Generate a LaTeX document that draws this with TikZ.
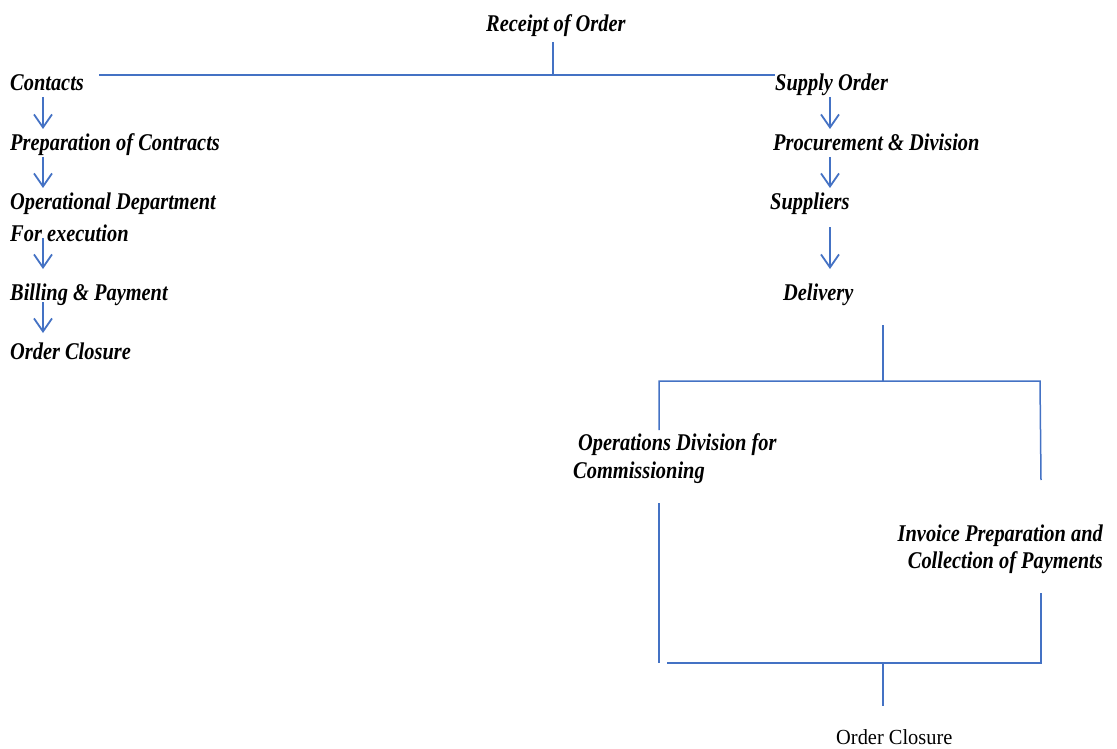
\documentclass[tikz,border=0pt]{standalone}
\usepackage{fontspec}
\setmainfont{Liberation Serif}
\newfontfamily\lblfont[FakeStretch=0.85]{Liberation Serif}
\newfontfamily\regfont[FakeStretch=0.95]{Liberation Serif}
\usetikzlibrary{arrows.meta}
\definecolor{ln}{HTML}{4472C4}
\tikzset{
  lbl/.style={inner sep=0pt, anchor=base west, font=\lblfont\bfseries\itshape\fontsize{24}{29}\selectfont},
  lble/.style={lbl, anchor=base east},
  regl/.style={inner sep=0pt, anchor=base west, font=\regfont\fontsize{21.5}{26}\selectfont},
  conn/.style={draw=ln, line width=1.5pt},
  arr/.style={conn, line width=1.8pt, -{Straight Barb[length=13pt,width=18pt]}}
}
\begin{document}
\begin{tikzpicture}[x=1pt,y=-1pt]
\useasboundingbox (0,0) rectangle (1117,749);
% texts
\node[lbl] (receipt) at (486,32) {Receipt of Order};
\node[lbl] (contacts) at (10,91) {Contacts};
\node[lbl] (prep) at (10,151) {Preparation of Contracts};
\node[lbl] (opdep) at (10,210) {Operational Department};
\node[lbl] (opdep2) at (10,241) {For execution};
\node[lbl] (billing) at (10,300) {Billing \& Payment};
\node[lbl] (closeL) at (10,359) {Order Closure};
\node[lbl] (supply) at (775,91) {Supply Order};
\node[lbl] (proc) at (773,151) {Procurement \& Division};
\node[lbl] (suppliers) at (770,210) {Suppliers};
\node[lbl] (delivery) at (783,300) {Delivery};
\node[lbl] (opsdiv) at (578,450) {Operations Division for};
\node[lbl] (opsdiv2) at (573,478) {Commissioning};
\node[lble] (inv) at (1103,541) {Invoice Preparation and};
\node[lble] (inv2) at (1103,568) {Collection of Payments};
\node[regl] (closeR) at (836,744) {Order Closure};
% coordinates
\coordinate (r1) at (553,42);
\coordinate (r2) at (553,75);
\coordinate (hL) at (99,75);
\coordinate (hR) at (775,75);
\foreach \n/\a/\b in {la1/97/129, la2/157/188, la3/238/269, la4/302/333}{
  \coordinate (\n s) at (43,\a); \coordinate (\n e) at (43,\b);}
\foreach \n/\a/\b in {ra1/97/129, ra2/157/188, ra3/227/269}{
  \coordinate (\n s) at (830,\a); \coordinate (\n e) at (830,\b);}
\coordinate (d1) at (883,325);
\coordinate (d2) at (883,381);
\coordinate (bl1) at (659,381);
\coordinate (bl2) at (659,430);
\coordinate (br1) at (1040,381);
\coordinate (br2) at (1041,480);
\coordinate (ll1) at (659,503);
\coordinate (ll2) at (659,663);
\coordinate (bb1) at (667,663);
\coordinate (bb2) at (1041,663);
\coordinate (rr1) at (1041,593);
\coordinate (c1) at (883,663);
\coordinate (c2) at (883,706);
% connectors
\draw[conn] (r1) -- (r2);
\draw[conn] (hL) -- (hR);
\draw[arr] (la1s) -- (la1e);
\draw[arr] (la2s) -- (la2e);
\draw[arr] (la3s) -- (la3e);
\draw[arr] (la4s) -- (la4e);
\draw[arr] (ra1s) -- (ra1e);
\draw[arr] (ra2s) -- (ra2e);
\draw[arr] (ra3s) -- (ra3e);
\draw[conn] (d1) -- (d2);
\draw[conn] (bl2) -- (bl1) -- (br1) -- (br2);
\draw[conn] (ll1) -- (ll2);
\draw[conn] (bb1) -- (bb2) -- (rr1);
\draw[conn] (c1) -- (c2);
\end{tikzpicture}
\end{document}
